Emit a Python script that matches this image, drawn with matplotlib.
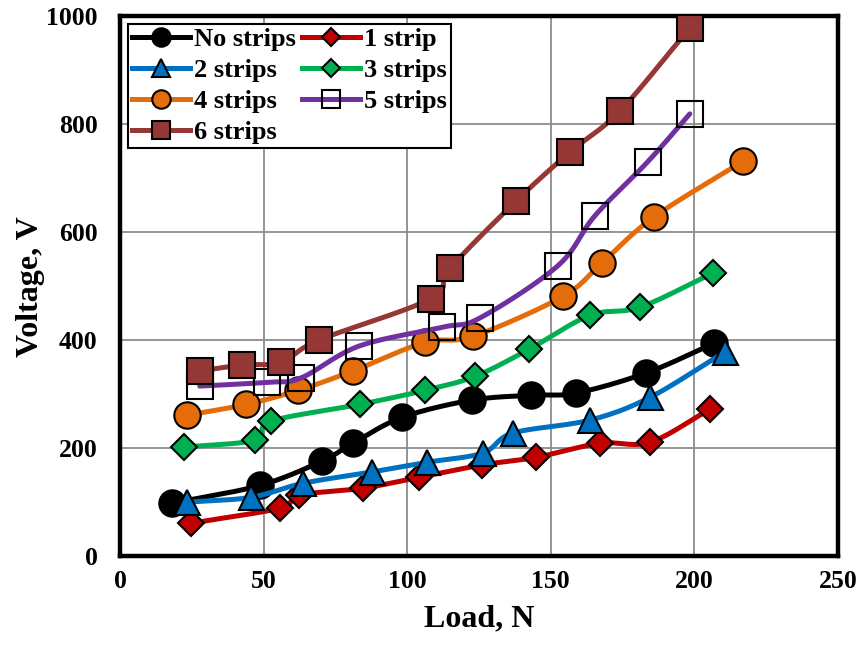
import numpy as np
import matplotlib
matplotlib.use("Agg")
import matplotlib.pyplot as plt

plt.rcParams['font.family'] = ['Liberation Serif', 'DejaVu Serif']
plt.rcParams['font.weight'] = 'bold'

# load (N) and voltage (V) readings per strip count
load_0 = [18.1, 48.7, 70.3, 81.1, 98.2, 122.5, 143.1, 158.7, 183.1, 206.8]
volt_0 = [98, 131, 176, 209, 257, 289, 298, 302, 339, 394]

load_1 = [24.7, 55.7, 62.3, 84.6, 104.1, 126.0, 144.8, 167.1, 184.5, 205.4]
volt_1 = [61, 89, 113, 126, 146, 169, 183, 209, 211, 272]

load_2 = [23.3, 45.6, 63.7, 87.7, 106.9, 126.3, 136.8, 163.6, 184.5, 210.6]
volt_2 = [100, 109, 135, 156, 174, 191, 228, 252, 294, 378]

load_3 = [22.3, 47.0, 52.6, 83.5, 106.1, 123.6, 142.4, 163.6, 181.0, 206.4]
volt_3 = [202, 215, 250, 281, 307, 333, 383, 446, 461, 524]

load_4 = [23.3, 43.9, 62.0, 81.1, 106.1, 122.9, 154.2, 167.8, 185.9, 216.8]
volt_4 = [261, 281, 307, 343, 396, 407, 481, 543, 628, 731]

load_5 = [27.8, 51.2, 63.0, 83.2, 112.3, 125.3, 152.5, 165.3, 183.7, 198.4]
volt_5 = [315, 322, 330, 389, 424, 441, 538, 630, 730, 819]

load_6 = [27.8, 42.5, 56.0, 69.2, 108.3, 114.9, 137.8, 156.6, 174.0, 198.4]
volt_6 = [343, 354, 359, 400, 477, 533, 657, 748, 824, 978]

labels = ['No strips', '1 strip', '2 strips', '3 strips', '4 strips', '5 strips', '6 strips']
colors = ['#000000', '#C00000', '#0070C0', '#00B050', '#E46C0A', '#7030A0', '#953735']
markers = ['o', 'D', '^', 'D', 'o', 's', 's']
msizes = [19, 13, 18, 13, 19, 18.5, 18.5]
faces = ['#000000', '#C00000', '#0070C0', '#00B050', '#E46C0A', 'none', '#953735']


def smooth(x, y, n=20):
    # Catmull-Rom curve through the points, like a spreadsheet "smoothed line"
    p = np.column_stack([x, y]).astype(float)
    p = np.vstack([2 * p[0] - p[1], p, 2 * p[-1] - p[-2]])
    out = []
    t = np.linspace(0, 1, n, endpoint=False)[:, None]
    for i in range(1, len(p) - 2):
        p0, p1, p2, p3 = p[i - 1], p[i], p[i + 1], p[i + 2]
        seg = 0.5 * ((2 * p1) + (-p0 + p2) * t + (2 * p0 - 5 * p1 + 4 * p2 - p3) * t ** 2
                     + (-p0 + 3 * p1 - 3 * p2 + p3) * t ** 3)
        out.append(seg)
    out.append(p[-2][None, :])
    out = np.vstack(out)
    return out[:, 0], out[:, 1]


series = [(load_0, volt_0), (load_1, volt_1), (load_2, volt_2), (load_3, volt_3),
          (load_4, volt_4), (load_5, volt_5), (load_6, volt_6)]

fig = plt.figure(figsize=(8.63, 6.46), dpi=100)
ax = fig.add_axes([0.139, 0.139, 0.832, 0.836])

handles = []
for (x, y), lab, c, m, ms, fc in zip(series, labels, colors, markers, msizes, faces):
    sx, sy = smooth(x, y)
    ax.plot(sx, sy, color=c, lw=3.6, solid_capstyle='round', zorder=3)
    ax.plot(x, y, ls='none', marker=m, ms=ms, mfc=fc, mec='black', mew=1.5, zorder=3)
    h, = ax.plot([], [], color=c, lw=3.6, marker=m, ms=ms, mfc=fc, mec='black', mew=1.5)
    handles.append(h)

ax.set_xlim(0, 250)
ax.set_ylim(0, 1000)
ax.set_xticks([0, 50, 100, 150, 200, 250])
ax.set_yticks([0, 200, 400, 600, 800, 1000])
ax.grid(True, color='#8c8c8c', lw=1.3)
ax.set_axisbelow(True)
for s in ax.spines.values():
    s.set_linewidth(3.2)
    s.set_color('black')
ax.tick_params(length=0, labelsize=18.5)
ax.tick_params(axis='x', pad=10)
ax.tick_params(axis='y', pad=16)

ax.set_xlabel('Load, N', fontsize=23, fontweight='bold', labelpad=8)
ax.set_ylabel('Voltage, V', fontsize=23, fontweight='bold', labelpad=1)

# legend entries read row by row: matplotlib fills columns first
order = [0, 2, 4, 6, 1, 3, 5]
leg = ax.legend([handles[i] for i in order], [labels[i] for i in order],
                loc='upper left', ncol=2, fontsize=19,
                frameon=True, fancybox=False, edgecolor='black', framealpha=1,
                borderpad=0.15, labelspacing=0.28, handlelength=2.2,
                handletextpad=0.15, columnspacing=0.25, markerscale=0.7,
                borderaxespad=0.3)
leg.get_frame().set_linewidth(1.5)
leg.set_zorder(5)

fig.savefig('out.png', dpi=100)
